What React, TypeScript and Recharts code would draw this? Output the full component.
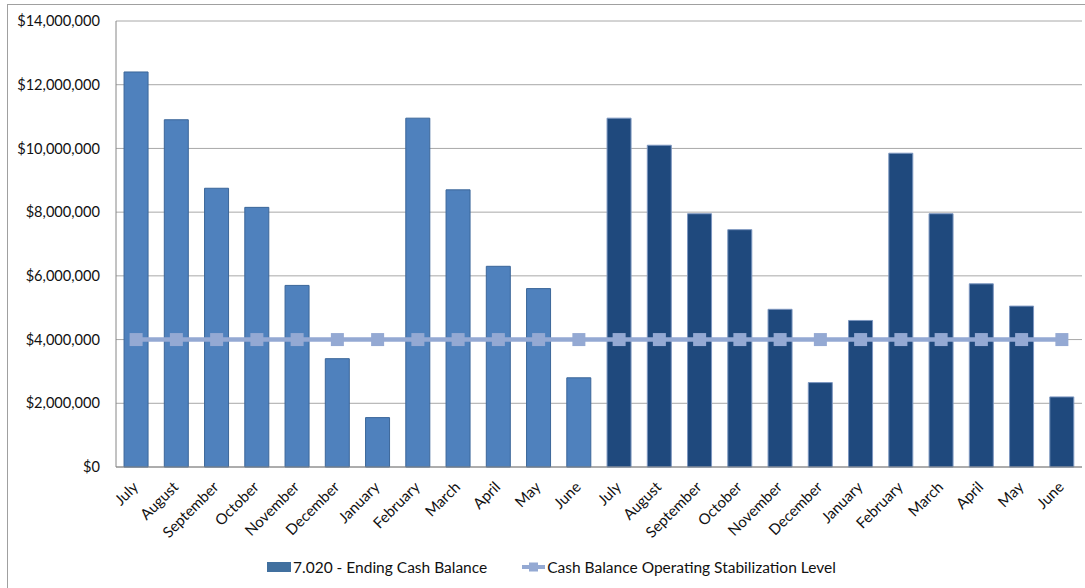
import React from "react";
import { ComposedChart, Bar, Line, XAxis, YAxis, CartesianGrid, Cell } from "recharts";

// Month labels across two fiscal years (July–June, twice)
const categories = [
  "July", "August", "September", "October", "November", "December",
  "January", "February", "March", "April", "May", "June",
  "July", "August", "September", "October", "November", "December",
  "January", "February", "March", "April", "May", "June",
];

// 7.020 - Ending Cash Balance
const endingCashBalance = [
  12400000, 10900000, 8750000, 8150000, 5700000, 3400000,
  1550000, 10950000, 8700000, 6300000, 5600000, 2800000,
  10950000, 10100000, 7950000, 7450000, 4950000, 2650000,
  4600000, 9850000, 7950000, 5750000, 5050000, 2200000,
];

// Cash Balance Operating Stabilization Level
const stabilizationLevel = [
  4000000, 4000000, 4000000, 4000000, 4000000, 4000000,
  4000000, 4000000, 4000000, 4000000, 4000000, 4000000,
  4000000, 4000000, 4000000, 4000000, 4000000, 4000000,
  4000000, 4000000, 4000000, 4000000, 4000000, 4000000,
];

// Fiscal year of each month: 0 = first year, 1 = second year
const fiscalYear = [
  0, 0, 0, 0, 0, 0, 0, 0, 0, 0, 0, 0,
  1, 1, 1, 1, 1, 1, 1, 1, 1, 1, 1, 1,
];

const yTicks = [0, 2000000, 4000000, 6000000, 8000000, 10000000, 12000000, 14000000];

const BAR_NAME = "7.020 - Ending Cash Balance";
const LINE_NAME = "Cash Balance Operating Stabilization Level";

const YEAR_FILL = ["#4F81BD", "#1F497D"];
const YEAR_STROKE = ["#3B6699", "#7D97C0"];
const LINE_COLOR = "#94A9D3";
const FONT = "Lato, 'Open Sans', Arial, sans-serif";

const data = categories.map((month, i) => ({
  month,
  balance: endingCashBalance[i],
  level: stabilizationLevel[i],
  year: fiscalYear[i],
}));

const formatDollars = (v: number) => "$" + v.toLocaleString("en-US");

const MonthTick = (props: any) => {
  const { x, y, payload } = props;
  const ax = x + 3;
  const ay = y + 21;
  return (
    <text
      x={ax}
      y={ay}
      transform={`rotate(-45, ${ax}, ${ay})`}
      textAnchor="end"
      fontSize={15}
      fontFamily={FONT}
      fill="#111"
    >
      {payload.value}
    </text>
  );
};

const SquareDot = (props: any) => {
  const { cx, cy, index } = props;
  if (cx == null || cy == null) return null;
  return <rect key={`sq-${index}`} x={cx - 6.5} y={cy - 6.5} width={13} height={13} fill={LINE_COLOR} />;
};

export default function App() {
  return (
    <div style={{ position: "fixed", left: 0, top: 0, width: 1085, height: 588, background: "#fff" }}>
      {/* chart frame */}
      <div
        style={{
          position: "absolute",
          left: 7,
          top: 4,
          width: 1078,
          height: 584,
          borderLeft: "1px solid #a0a0a0",
          borderTop: "1px solid #a0a0a0",
          boxSizing: "border-box",
        }}
      />
      <div style={{ position: "absolute", left: 0, top: 0 }}>
        <ComposedChart
          width={1085}
          height={588}
          data={data}
          margin={{ top: 21, right: 3, left: 0, bottom: 41 }}
          barCategoryGap="20%"
        >
          <CartesianGrid vertical={false} stroke="#a8a8a8" strokeWidth={1} />
          <XAxis
            dataKey="month"
            interval={0}
            height={80}
            tickLine={false}
            tickSize={0}
            tickMargin={0}
            axisLine={{ stroke: "#868686" }}
            tick={<MonthTick />}
          />
          <YAxis
            width={116}
            domain={[0, 14000000]}
            ticks={yTicks}
            tickFormatter={formatDollars}
            tickLine={false}
            tickSize={0}
            tickMargin={16}
            axisLine={{ stroke: "#868686" }}
            tick={{ fontSize: 14.6, fontFamily: FONT, fill: "#111" }}
            interval={0}
          />
          <Bar dataKey="balance" name={BAR_NAME} isAnimationActive={false}>
            {data.map((d, i) => (
              <Cell key={`c-${i}`} fill={YEAR_FILL[d.year]} stroke={YEAR_STROKE[d.year]} strokeWidth={1} />
            ))}
          </Bar>
          <Line
            type="linear"
            dataKey="level"
            name={LINE_NAME}
            stroke={LINE_COLOR}
            strokeWidth={4.5}
            dot={<SquareDot />}
            activeDot={false}
            isAnimationActive={false}
          />
        </ComposedChart>
      </div>
      {/* legend */}
      <div
        style={{
          position: "absolute",
          left: 267,
          top: 558,
          height: 18,
          display: "flex",
          alignItems: "center",
          fontFamily: FONT,
          fontSize: 15.5,
          color: "#111",
          whiteSpace: "nowrap",
        }}
      >
        <svg width={26} height={18}>
          <rect x={0} y={4} width={24} height={10} fill="#41709F" />
        </svg>
        <span>{BAR_NAME}</span>
        <svg width={35 + 25} height={18}>
          <line x1={35} y1={9} x2={58} y2={9} stroke={LINE_COLOR} strokeWidth={4} />
          <rect x={42} y={4.5} width={9} height={9} fill={LINE_COLOR} />
        </svg>
        <span>{LINE_NAME}</span>
      </div>
    </div>
  );
}
